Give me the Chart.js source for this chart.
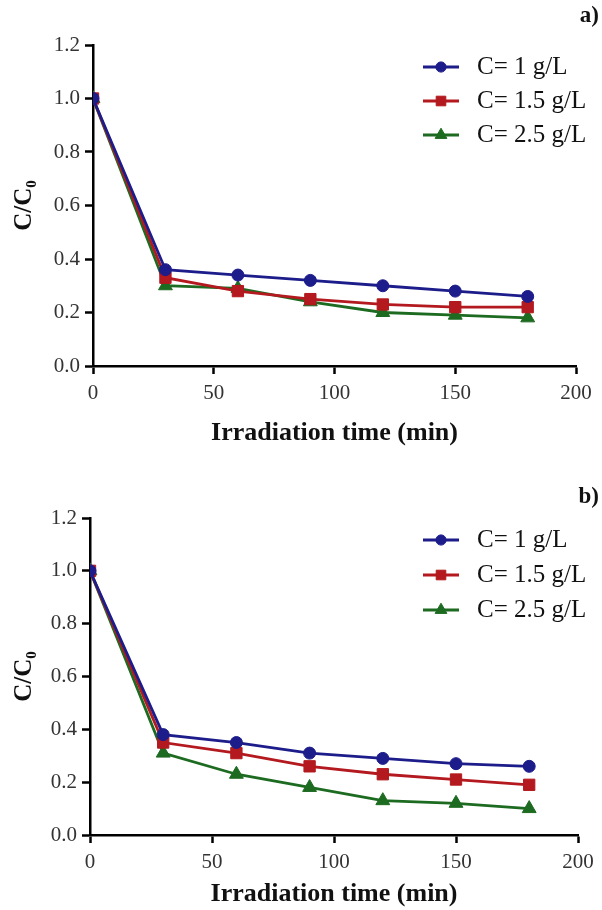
<!DOCTYPE html>
<html>
<head>
<meta charset="utf-8">
<script src="https://cdn.jsdelivr.net/npm/chart.js@4.4.0/dist/chart.umd.min.js"></script>
<style>
  html, body { margin: 0; padding: 0; background: #fff; }
  #wrap { position: relative; width: 602px; height: 910px; }
  .box { position: absolute; left: 0; width: 602px; }
</style>
</head>
<body>
<div id="wrap">
  <div class="box" style="top:0;height:450px;"><canvas id="cA" width="602" height="450"></canvas></div>
  <div class="box" style="top:450px;height:460px;"><canvas id="cB" width="602" height="460"></canvas></div>
</div>
<script>
// ---- data ----
const timeMin = [0, 30, 60, 90, 120, 150, 180];
const seriesLabels = ['C= 1 g/L', 'C= 1.5 g/L', 'C= 2.5 g/L'];
// panel a)
const a_c1   = [1.00, 0.36, 0.34, 0.32, 0.30, 0.28, 0.26];
const a_c15  = [1.00, 0.33, 0.28, 0.25, 0.23, 0.22, 0.22];
const a_c25  = [1.00, 0.30, 0.29, 0.24, 0.20, 0.19, 0.18];
// panel b)
const b_c1   = [1.00, 0.38, 0.35, 0.31, 0.29, 0.27, 0.26];
const b_c15  = [1.00, 0.35, 0.31, 0.26, 0.23, 0.21, 0.19];
const b_c25  = [1.00, 0.31, 0.23, 0.18, 0.13, 0.12, 0.10];
const yTicks = [0.0, 0.2, 0.4, 0.6, 0.8, 1.0, 1.2];
const xTicks = [0, 50, 100, 150, 200];

// ---- styles ----
const colors = ['#1c1c8a', '#b3191e', '#1d6b21'];
const pStyles = ['circle', 'rect', 'triangle'];
const pRadius = [6, 8, 8];
const SERIF = '"Liberation Serif", "Times New Roman", "DejaVu Serif", serif';

function pts(arr) { return arr.map((v, i) => ({ x: timeMin[i], y: v })); }

const panelLegend = {
  id: 'panelLegend',
  afterDraw(chart, args, opts) {
    const ctx = chart.ctx;
    ctx.save();
    chart.data.datasets.forEach((ds, i) => {
      const y = opts.y0 + i * opts.dy;
      ctx.strokeStyle = ds.borderColor;
      ctx.lineWidth = 2.8;
      ctx.beginPath();
      ctx.moveTo(opts.x0, y);
      ctx.lineTo(opts.x1, y);
      ctx.stroke();
      ctx.fillStyle = ds.backgroundColor;
      ctx.strokeStyle = ds.borderColor;
      ctx.lineWidth = 1;
      Chart.helpers.drawPoint(ctx, { pointStyle: ds.pointStyle, radius: ds.pointRadius * 0.85, borderWidth: 1 }, (opts.x0 + opts.x1) / 2, y);
      ctx.fillStyle = '#111';
      ctx.font = '25px ' + SERIF;
      ctx.textBaseline = 'middle';
      ctx.textAlign = 'left';
      ctx.fillText(ds.label, opts.tx, y);
    });
    ctx.font = 'bold 23px ' + SERIF;
    ctx.textAlign = 'right';
    ctx.textBaseline = 'middle';
    ctx.fillStyle = '#111';
    ctx.fillText(opts.tag, 599, opts.tagY);
    ctx.restore();
  }
};

function makeChart(id, series, g) {
  const datasets = series.map((s, i) => ({
    label: seriesLabels[i],
    data: pts(s),
    borderColor: colors[i],
    backgroundColor: colors[i],
    borderWidth: 2.8,
    pointStyle: pStyles[i],
    pointRadius: pRadius[i],
    pointBorderWidth: 1,
    pointHoverRadius: pRadius[i],
    tension: 0,
    fill: false
  }));
  return new Chart(document.getElementById(id), {
    type: 'line',
    data: { datasets },
    plugins: [panelLegend],
    options: {
      responsive: false,
      animation: false,
      events: [],
      layout: { padding: { left: 0, top: g.top, right: g.right, bottom: 0 } },
      plugins: {
        legend: { display: false },
        tooltip: { enabled: false },
        panelLegend: g.legend
      },
      scales: {
        x: {
          type: 'linear', min: 0, max: 200,
          afterBuildTicks(s) { s.ticks = xTicks.map(v => ({ value: v })); },
          afterFit(s) { s.height = g.xh; },
          ticks: { font: { family: SERIF, size: 21 }, color: '#333', padding: 7, maxRotation: 0 },
          grid: { display: true, drawOnChartArea: false, drawTicks: true, tickLength: 8, tickWidth: 2.5, tickColor: '#000' },
          border: { display: true, color: '#000', width: 2.5 },
          title: { display: true, text: 'Irradiation time (min)', color: '#111',
                   font: { family: SERIF, size: 26, weight: 'bold' }, padding: { top: 0, bottom: g.xtp } }
        },
        y: {
          type: 'linear', min: 0, max: 1.2,
          afterBuildTicks(s) { s.ticks = yTicks.map(v => ({ value: v })); },
          afterFit(s) { s.width = g.yw; },
          ticks: { font: { family: SERIF, size: 21 }, color: '#333', padding: 5,
                   callback: v => Number(v).toFixed(1) },
          grid: { display: true, drawOnChartArea: false, drawTicks: true, tickLength: 8, tickWidth: 2.5, tickColor: '#000' },
          border: { display: true, color: '#000', width: 2.5 },
          title: { display: true, text: 'C/C\u2080', color: '#111',
                   font: { family: SERIF, size: 25, weight: 'bold' }, padding: { top: 10, bottom: 0 } }
        }
      }
    }
  });
}

makeChart('cA', [a_c1, a_c15, a_c25], {
  top: 45, right: 26, xh: 84, yw: 93, xtp: 1,
  legend: { x0: 423, x1: 459, tx: 477, y0: 67, dy: 34, tag: 'a)', tagY: 16 }
});
makeChart('cB', [b_c1, b_c15, b_c25], {
  top: 68, right: 24, xh: 75, yw: 90, xtp: 0,
  legend: { x0: 423, x1: 459, tx: 477, y0: 90, dy: 35, tag: 'b)', tagY: 47 }
});
</script>
</body>
</html>
